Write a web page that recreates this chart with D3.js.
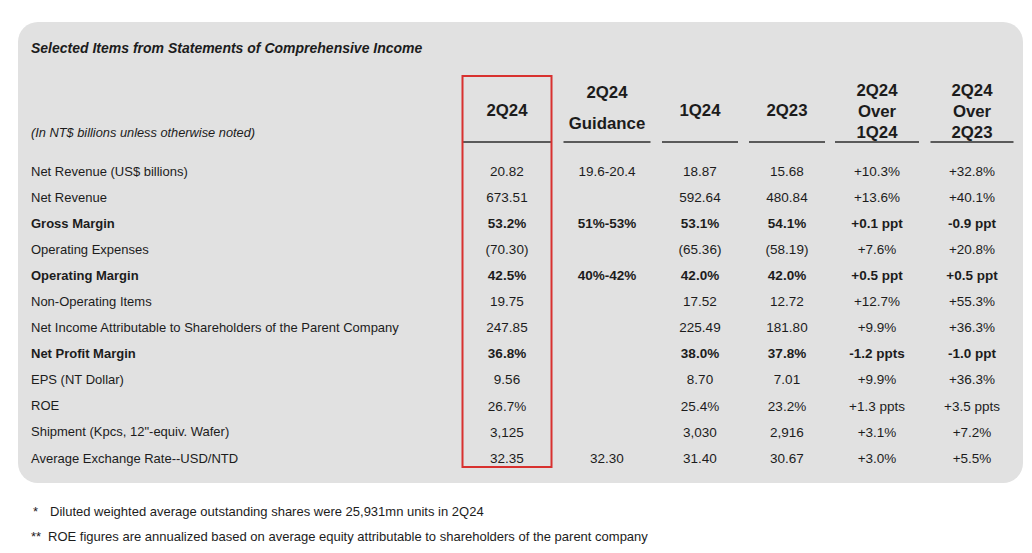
<!DOCTYPE html>
<html><head><meta charset="utf-8">
<script src="https://cdn.jsdelivr.net/npm/d3@7"></script>
<style>html,body{margin:0;padding:0;background:#fff;}svg{display:block;font-family:"Liberation Sans",Arial,sans-serif;}</style>
</head><body>
<svg id="chart" width="1032" height="553"></svg>
<script>
const title = "Selected Items from Statements of Comprehensive Income";
const subtitle = "(In NT$ billions unless otherwise noted)";
const rowLabels = ["Net Revenue (US$ billions)","Net Revenue","Gross Margin","Operating Expenses","Operating Margin","Non-Operating Items","Net Income Attributable to Shareholders of the Parent Company","Net Profit Margin","EPS (NT Dollar)","ROE","Shipment (Kpcs, 12\"-equiv. Wafer)","Average Exchange Rate--USD/NTD"];
const boldRows = ["Gross Margin","Operating Margin","Net Profit Margin"];
const columns = ["2Q24","2Q24 Guidance","1Q24","2Q23","2Q24 Over 1Q24","2Q24 Over 2Q23"];
const columnHeaders = [["2Q24"],["2Q24","Guidance"],["1Q24"],["2Q23"],["2Q24","Over","1Q24"],["2Q24","Over","2Q23"]];
const v2Q24 = ["20.82","673.51","53.2%","(70.30)","42.5%","19.75","247.85","36.8%","9.56","26.7%","3,125","32.35"];
const vGuidance = ["19.6-20.4","","51%-53%","","40%-42%","","","","","","","32.30"];
const v1Q24 = ["18.87","592.64","53.1%","(65.36)","42.0%","17.52","225.49","38.0%","8.70","25.4%","3,030","31.40"];
const v2Q23 = ["15.68","480.84","54.1%","(58.19)","42.0%","12.72","181.80","37.8%","7.01","23.2%","2,916","30.67"];
const vQoQ = ["+10.3%","+13.6%","+0.1 ppt","+7.6%","+0.5 ppt","+12.7%","+9.9%","-1.2 ppts","+9.9%","+1.3 ppts","+3.1%","+3.0%"];
const vYoY = ["+32.8%","+40.1%","-0.9 ppt","+20.8%","+0.5 ppt","+55.3%","+36.3%","-1.0 ppt","+36.3%","+3.5 ppts","+7.2%","+5.5%"];
const footnotes = [["*","Diluted weighted average outstanding shares were 25,931mn units in 2Q24"],["**","ROE figures are annualized based on average equity attributable to shareholders of the parent company"]];

const seriesValues = [v2Q24, vGuidance, v1Q24, v2Q23, vQoQ, vYoY];

const svg = d3.select("#chart");
const textColor = "#1c1c1c";

// panel
svg.append("rect").attr("x",18).attr("y",22).attr("width",1005).attr("height",461)
  .attr("rx",20).attr("ry",20).attr("fill","#e1e1e1");

svg.append("text").attr("x",31).attr("y",48).attr("dy","0.35em")
  .attr("font-size",14).attr("font-weight","bold").attr("font-style","italic")
  .attr("fill",textColor).text(title);
svg.append("text").attr("x",31).attr("y",133).attr("dy","0.35em")
  .attr("font-size",12.8).attr("font-style","italic").attr("fill",textColor).text(subtitle);

const y = d3.scalePoint().domain(rowLabels).range([171,458]);
const x = d3.scaleOrdinal().domain(columns).range([507,607,700,787,877,972]);
const lineWidth = d3.scaleOrdinal().domain(columns).range([89,87,76,76,84,83]);

// row labels
svg.append("g").selectAll("text").data(rowLabels).join("text")
  .attr("x",31).attr("y",d=>y(d)).attr("dy","0.35em")
  .attr("font-size",13).attr("font-weight",d=>boldRows.includes(d)?"bold":"normal")
  .attr("fill",textColor).text(d=>d);

// headers
const hdr = svg.append("g").selectAll("g").data(columns).join("g");
hdr.each(function(c,i){
  const lines = columnHeaders[i];
  const g = d3.select(this);
  let ys;
  if (lines.length===1) ys=[110];
  else if (lines.length===2) ys=[92,123];
  else ys=[90,111,132];
  lines.forEach((t,j)=>{
    g.append("text").attr("x",x(c)).attr("y",ys[j]).attr("dy","0.35em")
      .attr("text-anchor","middle").attr("font-size",16.8).attr("font-weight","bold")
      .attr("fill",textColor).text(t);
  });
  g.append("line").attr("x1",x(c)-lineWidth(c)/2).attr("x2",x(c)+lineWidth(c)/2)
    .attr("y1",142).attr("y2",142).attr("stroke","#5a5a5a").attr("stroke-width",2);
});

// values
columns.forEach((c,ci)=>{
  svg.append("g").selectAll("text").data(seriesValues[ci].map((v,ri)=>({v,row:rowLabels[ri]}))).join("text")
    .attr("x",x(c)).attr("y",d=>y(d.row)).attr("dy","0.35em").attr("text-anchor","middle")
    .attr("font-size",13.5).attr("font-weight",d=>boldRows.includes(d.row)?"bold":"normal")
    .attr("fill",textColor).text(d=>d.v);
});

// red highlight box
svg.append("rect").attr("x",x("2Q24")-44.5).attr("y",76).attr("width",89).attr("height",391)
  .attr("fill","none").attr("stroke","#d8312f").attr("stroke-width",2);

// footnotes
const fy = d3.scalePoint().domain(footnotes.map(d=>d[0])).range([511,536]);
const fn = svg.append("g").selectAll("g").data(footnotes).join("g");
fn.append("text").attr("x",d=>d[0]==="*"?33:31).attr("y",d=>fy(d[0])).attr("dy","0.35em")
  .attr("font-size",13).attr("fill",textColor).text(d=>d[0]);
fn.append("text").attr("x",d=>d[0]==="*"?50:48).attr("y",d=>fy(d[0])).attr("dy","0.35em")
  .attr("font-size",13).attr("fill",textColor).text(d=>d[1]);
</script>
</body></html>
